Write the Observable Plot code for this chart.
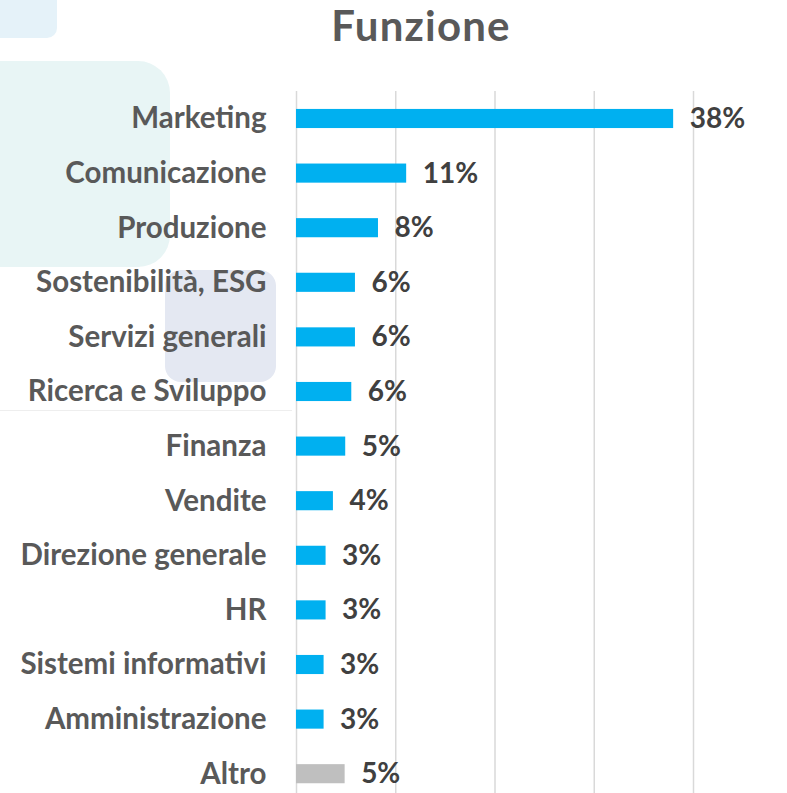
<!DOCTYPE html>
<html>
<head>
<meta charset="utf-8">
<script src="https://cdn.jsdelivr.net/npm/d3@7"></script>
<script src="https://cdn.jsdelivr.net/npm/@observablehq/plot@0.6"></script>
<style>
  html, body { margin: 0; padding: 0; background: #ffffff; }
  #wrap { position: relative; width: 787px; height: 793px; overflow: hidden; }
  .deco { position: absolute; }
  #title { position: absolute; left: 0; width: 842px; top: 0px; text-align: center;
    font-family: Lato, "Open Sans", sans-serif; font-weight: 700; font-size: 42px; letter-spacing: 1.2px; color: #595959; }
  #chart { position: absolute; left: 0; top: 0; }
</style>
</head>
<body>
<div id="wrap">
  <div class="deco" style="left:-20px;top:-20px;width:77px;height:58px;background:#e5f2f9;border-radius:10px;"></div>
  <div class="deco" style="left:-30px;top:61px;width:200px;height:206px;background:#e8f5f5;border-radius:32px;"></div>
  <div class="deco" style="left:165px;top:270px;width:111px;height:112px;background:#e4e8f2;border-radius:16px;"></div>
  <div class="deco" style="left:0px;top:410px;width:292px;height:1px;background:#eeeeee;"></div>
  <div id="chart"></div>
  <div id="title">Funzione</div>
</div>
<script>
const categories = ["Marketing", "Comunicazione", "Produzione", "Sostenibilità, ESG", "Servizi generali",
  "Ricerca e Sviluppo", "Finanza", "Vendite", "Direzione generale", "HR", "Sistemi informativi",
  "Amministrazione", "Altro"];
const values = [38, 11.1, 8.26, 5.94, 5.94, 5.57, 4.96, 3.72, 2.98, 2.98, 2.78, 2.78, 4.9];
const valueLabels = ["38%", "11%", "8%", "6%", "6%", "6%", "5%", "4%", "3%", "3%", "3%", "3%", "5%"];
const xTicks = [0, 10, 20, 30, 40];

const data = categories.map((c, i) => ({cat: c, value: values[i], label: valueLabels[i]}));
const blue = "#00b0f0", gray = "#bfbfbf";

const chart = Plot.plot({
  width: 787,
  height: 793,
  marginLeft: 296,
  marginRight: 94,
  marginTop: 91,
  marginBottom: 0,
  style: {background: "transparent", fontFamily: "Lato, 'Open Sans', sans-serif"},
  x: {domain: [0, 40], axis: null},
  y: {domain: categories, paddingInner: 0.65, paddingOuter: 0.2535, align: 0.648, round: false, label: null},
  marks: [
    Plot.gridX(xTicks, {stroke: "#d9d9d9", strokeOpacity: 1, strokeWidth: 1.5}),
    Plot.barX(data, {x: "value", y: "cat", fill: d => d.cat === "Altro" ? gray : blue}),
    Plot.text(data, {x: "value", y: "cat", text: "label", textAnchor: "start", dx: 16,
      fill: "#404040", fontSize: 28, fontWeight: 700}),
    Plot.axisY({tickSize: 0, tickPadding: 30, fontSize: 29.5, fontWeight: 700, fill: "#595959", label: null})
  ]
});
document.getElementById("chart").appendChild(chart);
</script>
</body>
</html>
